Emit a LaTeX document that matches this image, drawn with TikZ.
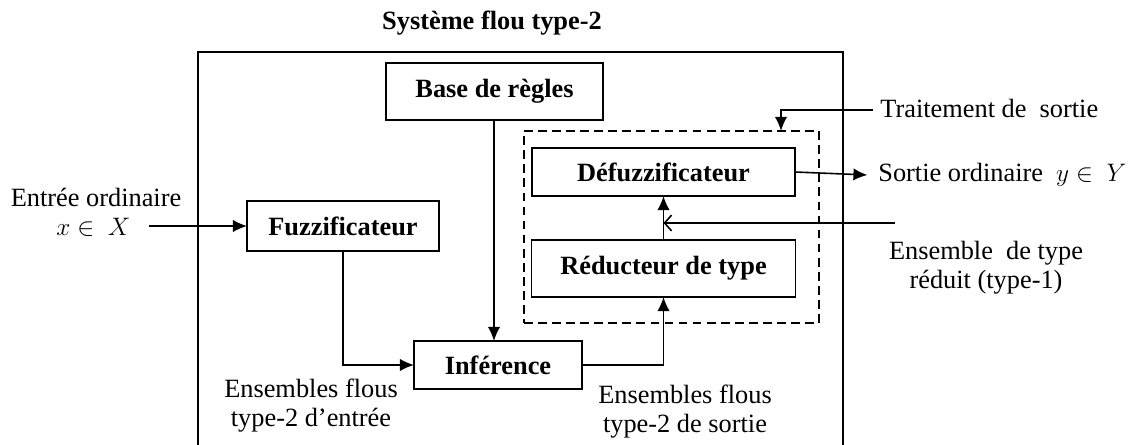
\documentclass[tikz,border=0pt]{standalone}
\usepackage{fontspec}
\setmainfont{Liberation Serif}
\usetikzlibrary{arrows.meta}

\tikzset{
  bloc/.style={draw,line width=1pt,inner sep=0pt,outer sep=0pt,font=\fontsize{15}{17}\selectfont\bfseries},
  txt/.style={inner sep=0pt,align=center,font=\fontsize{15}{16.5}\selectfont},
  fil/.style={line width=0.9pt},
  pointe/.style={-{Latex[length=8pt,width=7pt]}}
}

\begin{document}
\begin{tikzpicture}[x=0.02cm,y=-0.02cm]
\useasboundingbox (0,0) rectangle (1135,445);
\node (titre) [inner sep=0pt,font=\fontsize{15}{17}\selectfont\bfseries] at (492,23) {Système flou type-2};
\draw [fil] (198,445) -- (198,52) -- (843,52) -- (843,445);
\node (base) [bloc,minimum width=4.34cm,minimum height=1.14cm] at (494.5,91.5) {Base de règles};
\node (fuzz) [bloc,minimum width=3.84cm,minimum height=1cm] at (343,226) {Fuzzificateur};
\node (infer) [bloc,minimum width=3.36cm,minimum height=0.96cm] at (498,365) {Inférence};
\node (traite) [draw,line width=0.9pt,dash pattern=on 5pt off 3pt,minimum width=5.9cm,minimum height=3.84cm] at (671.5,227) {};
\node (defuzz) [bloc,minimum width=5.26cm,minimum height=0.96cm] at (663.5,172) {Défuzzificateur};
\node (reduc) [bloc,minimum width=5.28cm,minimum height=1.14cm] at (663.5,268.5) {Réducteur de type};
% textes
\node (entree) [txt] at (96,212) {Entrée ordinaire\\$x\in\ X$\hspace*{0.2em}};
\node (sortie) [txt,anchor=west] at (878,175) {Sortie ordinaire\ \ $y\in\ Y$};
\node (trait) [txt,anchor=west] at (880,108) {Traitement de\ \ sortie};
\node (ens) [txt] at (986,268) {Ensemble\ \ de type\\réduit (type-1)};
\node (ensin) [txt] at (311,406) {Ensembles flous\\type-2 d’entrée};
\node (ensout) [txt] at (685,412) {Ensembles flous\\type-2 de sortie};
\coordinate (xin) at (149,226);
\coordinate (tdrop) at (781,131);
\coordinate (ensbout) at (895,223);
% liaisons
\draw [fil,pointe] (xin) -- (xin -| fuzz.west);
\draw [fil,pointe] (fuzz.south) |- (infer.west);
\draw [fil,pointe] (base.south -| 494,0) -- (infer.north -| 494,0);
\draw [fil,pointe] (infer.east) -| (reduc.south);
\draw [fil,pointe] (reduc.north) -- (defuzz.south);
\draw [fil,pointe] (defuzz.east) -- ([xshift=-6pt]sortie.west);
\draw [fil,pointe] ([xshift=-4pt]trait.west |- 0,110) -| (tdrop);
\draw [fil,-{Straight Barb[length=4pt,width=9pt]}] (ensbout) -- (ensbout -| reduc.north);
\end{tikzpicture}
\end{document}
